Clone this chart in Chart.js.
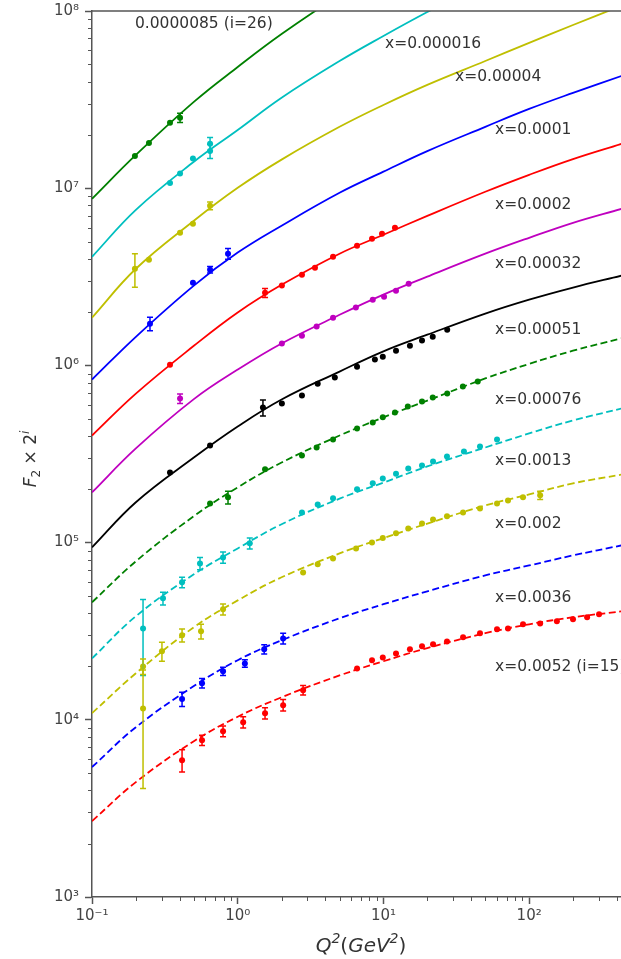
<!DOCTYPE html>
<html>
<head>
<meta charset="utf-8">
<script src="https://cdn.jsdelivr.net/npm/chart.js@4.4.0/dist/chart.umd.min.js"></script>
<style>
  html, body { margin: 0; padding: 0; background: #fff; overflow: hidden; width: 621px; height: 959px; }
  canvas { display: block; margin-top: -4px; }
</style>
</head>
<body>
<canvas id="f2Chart" width="625" height="963"></canvas>
<script>
// Q^2 nodes of the fitted curves (GeV^2)
var qFit = [0.1, 0.2, 0.5, 1, 2, 5, 10, 20, 50, 100, 200, 430];

// fitted F2 x 2^i for every x bin (null = far above the frame)
var fit_0000085 = [8.71e6, 1.54e7, 3.07e7, 4.83e7, 7.41e7, 1.23e8, 1.72e8, null, null, null, null, null];
var fit_000016  = [4.10e6, 7.55e6, 1.41e7, 2.13e7, 3.24e7, 5.22e7, 7.23e7, 9.87e7, 1.46e8, null, null, null];
var fit_00004   = [1.86e6, 3.51e6, 6.55e6, 1.005e7, 1.45e7, 2.22e7, 2.95e7, 3.83e7, 5.22e7, 6.61e7, 8.34e7, 1.07e8];
var fit_0001    = [8.32e5, 1.45e6, 2.82e6, 4.33e6, 6.14e6, 9.42e6, 1.24e7, 1.62e7, 2.22e7, 2.80e7, 3.45e7, 4.30e7];
var fit_0002    = [4.02e5, 6.93e5, 1.29e6, 1.99e6, 2.85e6, 4.27e6, 5.46e6, 6.98e6, 9.55e6, 1.19e7, 1.46e7, 1.78e7];
var fit_00032   = [1.92e5, 3.40e5, 6.45e5, 9.47e5, 1.33e6, 1.93e6, 2.51e6, 3.17e6, 4.27e6, 5.25e6, 6.38e6, 7.65e6];
var fit_00051   = [9.40e4, 1.69e5, 3.02e5, 4.52e5, 6.42e5, 9.23e5, 1.20e6, 1.49e6, 1.96e6, 2.35e6, 2.75e6, 3.21e6];
var fit_00076   = [4.60e4, 7.84e4, 1.41e5, 2.05e5, 2.83e5, 4.02e5, 5.09e5, 6.33e5, 8.44e5, 1.02e6, 1.21e6, 1.42e6];
var fit_0013    = [2.22e4, 3.84e4, 6.62e4, 9.27e4, 1.27e5, 1.77e5, 2.18e5, 2.69e5, 3.44e5, 4.13e5, 4.89e5, 5.71e5];
var fit_002     = [1.09e4, 1.83e4, 3.33e4, 4.72e4, 6.37e4, 8.69e4, 1.06e5, 1.28e5, 1.62e5, 1.87e5, 2.16e5, 2.42e5];
var fit_0036    = [5.41e3, 9.08e3, 1.55e4, 2.17e4, 2.81e4, 3.74e4, 4.49e4, 5.31e4, 6.53e4, 7.43e4, 8.47e4, 9.64e4];
var fit_0052    = [2.68e3, 4.45e3, 7.57e3, 1.04e4, 1.34e4, 1.78e4, 2.14e4, 2.54e4, 3.08e4, 3.46e4, 3.79e4, 4.09e4];

// measured points: [Q^2, F2 x 2^i, error]
var data_0000085 = [[0.197, 1.52e7, 0], [0.246, 1.80e7, 0], [0.343, 2.34e7, 0], [0.402, 2.50e7, 1.5e6]];
var data_000016 = [[0.343, 1.07e7, 0], [0.402, 1.21e7, 0], [0.493, 1.47e7, 0], [0.646, 1.62e7, 1.5e6], [0.646, 1.78e7, 1.5e6]];
var data_00004 = [[0.197, 3.51e6, 7.5e5], [0.246, 3.95e6, 0], [0.402, 5.61e6, 0], [0.493, 6.30e6, 0], [0.646, 7.96e6, 4e5]];
var data_0001 = [[0.250, 1.72e6, 1.5e5], [0.493, 2.93e6, 0], [0.646, 3.47e6, 1.5e5], [0.858, 4.27e6, 3e5]];
var data_0002 = [[0.343, 1.01e6, 0], [1.54, 2.57e6, 1.5e5], [2.01, 2.82e6, 0], [2.76, 3.25e6, 0], [3.39, 3.56e6, 0],
  [4.51, 4.10e6, 0], [6.59, 4.73e6, 0], [8.35, 5.19e6, 0], [9.78, 5.53e6, 0], [12.0, 5.98e6, 0]];
var data_00032 = [[0.402, 6.50e5, 4e4], [2.01, 1.33e6, 0], [2.76, 1.47e6, 0], [3.48, 1.66e6, 0], [4.51, 1.86e6, 0],
  [6.47, 2.12e6, 0], [8.45, 2.35e6, 0], [10.1, 2.44e6, 0], [12.2, 2.64e6, 0], [14.9, 2.89e6, 0]];
var data_00051 = [[0.343, 2.49e5, 0], [0.646, 3.53e5, 0], [1.49, 5.78e5, 6e4], [2.01, 6.10e5, 0], [2.76, 6.76e5, 0],
  [3.54, 7.89e5, 0], [4.64, 8.54e5, 0], [6.59, 9.84e5, 0], [8.74, 1.08e6, 0], [9.9, 1.12e6, 0], [12.2, 1.21e6, 0],
  [15.2, 1.29e6, 0], [18.4, 1.38e6, 0], [21.8, 1.45e6, 0], [27.4, 1.59e6, 0]];
var data_00076 = [[0.646, 1.66e5, 0], [0.858, 1.80e5, 1.5e4], [1.54, 2.59e5, 0], [2.76, 3.10e5, 0], [3.48, 3.44e5, 0],
  [4.51, 3.82e5, 0], [6.59, 4.41e5, 0], [8.45, 4.76e5, 0], [9.9, 5.09e5, 0], [12.0, 5.42e5, 0], [14.7, 5.86e5, 0],
  [18.4, 6.25e5, 0], [21.8, 6.58e5, 0], [27.4, 6.93e5, 0], [35.1, 7.59e5, 0], [44.4, 8.10e5, 0]];
var data_0013 = [[0.224, 3.28e4, 1.5e4], [0.307, 4.85e4, 4e3], [0.415, 5.97e4, 4e3], [0.551, 7.63e4, 6e3], [0.793, 8.25e4, 6e3],
  [1.21, 9.90e4, 7e3], [2.76, 1.48e5, 0], [3.54, 1.64e5, 0], [4.51, 1.78e5, 0], [6.59, 2.00e5, 0], [8.45, 2.16e5, 0],
  [9.9, 2.30e5, 0], [12.2, 2.45e5, 0], [14.8, 2.62e5, 0], [18.4, 2.72e5, 0], [21.9, 2.87e5, 0], [27.3, 3.06e5, 0],
  [35.7, 3.27e5, 0], [46.0, 3.49e5, 0], [60.2, 3.82e5, 0]];
var data_002 = [[0.224, 2.00e4, 2e3], [0.224, 1.16e4, 7.5e3], [0.302, 2.44e4, 3e3], [0.415, 3.00e4, 2.5e3], [0.560, 3.16e4, 3e3],
  [0.793, 4.20e4, 3e3], [2.81, 6.79e4, 0], [3.54, 7.54e4, 0], [4.51, 8.14e4, 0], [6.49, 9.27e4, 0], [8.35, 1.00e5, 0],
  [9.9, 1.06e5, 0], [12.2, 1.13e5, 0], [14.8, 1.20e5, 0], [18.4, 1.28e5, 0], [21.9, 1.35e5, 0], [27.3, 1.41e5, 0],
  [35.2, 1.48e5, 0], [46.0, 1.56e5, 0], [60.2, 1.66e5, 0], [71.6, 1.73e5, 0], [90.8, 1.80e5, 0], [119, 1.85e5, 1e4]];
var data_0036 = [[0.415, 1.31e4, 1.2e3], [0.569, 1.61e4, 1e3], [0.793, 1.88e4, 1e3], [1.12, 2.08e4, 1e3], [1.52, 2.50e4, 1.5e3],
  [2.05, 2.88e4, 2e3]];
var data_0052 = [[0.415, 5.92e3, 8.5e2], [0.569, 7.67e3, 5e2], [0.793, 8.63e3, 6e2], [1.09, 9.69e3, 7e2], [1.54, 1.09e4, 8e2],
  [2.05, 1.21e4, 9e2], [2.81, 1.47e4, 9e2], [6.59, 1.95e4, 0], [8.35, 2.17e4, 0], [9.9, 2.25e4, 0], [12.2, 2.37e4, 0],
  [15.2, 2.50e4, 0], [18.4, 2.60e4, 0], [21.9, 2.67e4, 0], [27.3, 2.77e4, 0], [35.2, 2.92e4, 0], [46.0, 3.08e4, 0],
  [60.2, 3.24e4, 0], [71.6, 3.28e4, 0], [90.8, 3.46e4, 0], [119, 3.50e4, 0], [155, 3.60e4, 0], [200, 3.69e4, 0],
  [250, 3.79e4, 0], [302, 3.94e4, 0]];

var seriesNames = ['0.0000085 (i=26)', 'x=0.000016', 'x=0.00004', 'x=0.0001', 'x=0.0002', 'x=0.00032',
  'x=0.00051', 'x=0.00076', 'x=0.0013', 'x=0.002', 'x=0.0036', 'x=0.0052 (i=15)'];

// tick labels
var xTickValues = [0.1, 1, 10, 100];
var xTickLabels = ['10\u207B\u00B9', '10\u2070', '10\u00B9', '10\u00B2'];
var yTickValues = [1e3, 1e4, 1e5, 1e6, 1e7, 1e8];
var yTickLabels = ['10\u00B3', '10\u2074', '10\u2075', '10\u2076', '10\u2077', '10\u2078'];

var fits = [fit_0000085, fit_000016, fit_00004, fit_0001, fit_0002, fit_00032,
  fit_00051, fit_00076, fit_0013, fit_002, fit_0036, fit_0052];
var points = [data_0000085, data_000016, data_00004, data_0001, data_0002, data_00032,
  data_00051, data_00076, data_0013, data_002, data_0036, data_0052];

// styles
var colors = ['#008000', '#00bfbf', '#bfbf00', '#0000ff', '#ff0000', '#bf00bf',
  '#000000', '#008000', '#00bfbf', '#bfbf00', '#0000ff', '#ff0000'];
var dashed = [false, false, false, false, false, false, false, true, true, true, true, true];
// where each bin label sits (data coords of its left/middle)
var labelAt = [[0.197, 8.45e7], [10.26, 6.52e7], [31.0, 4.25e7], [58.3, 2.13e7], [58.3, 8.05e6], [58.3, 3.75e6],
  [58.3, 1.59e6], [58.3, 6.42e5], [58.3, 2.90e5], [58.3, 1.27e5], [58.3, 4.84e4], [58.3, 1.98e4]];

var FONT = 'DejaVu Sans';
var datasets = [];
fits.forEach(function (f, i) {
  var d = [];
  qFit.forEach(function (q, k) { if (f[k] !== null) d.push({ x: q, y: f[k] }); });
  datasets.push({
    data: d, showLine: true, borderColor: colors[i], borderWidth: 1.8,
    borderDash: dashed[i] ? [7, 3.5] : [], pointRadius: 0, tension: 0.4, order: 1
  });
});
points.forEach(function (p, i) {
  datasets.push({
    data: p.map(function (r) { return { x: r[0], y: r[1] }; }),
    showLine: false, pointRadius: 3, pointBorderWidth: 0, backgroundColor: colors[i], order: 0
  });
});

function drawPieces(ctx, pieces, cx, baseY) {
  var w = 0;
  pieces.forEach(function (p) { ctx.font = p[1]; w += ctx.measureText(p[0]).width; });
  var x = cx - w / 2;
  pieces.forEach(function (p) {
    ctx.font = p[1];
    ctx.fillText(p[0], x, baseY + p[2]);
    x += ctx.measureText(p[0]).width;
  });
}

var decorations = {
  id: 'decorations',
  afterDatasetsDraw: function (chart) {
    var ctx = chart.ctx, xs = chart.scales.x, ys = chart.scales.y, a = chart.chartArea;
    ctx.save();
    ctx.beginPath();
    ctx.rect(a.left, a.top, a.right - a.left, a.bottom - a.top);
    ctx.clip();
    ctx.lineWidth = 1.5;
    points.forEach(function (pts, i) {
      ctx.strokeStyle = colors[i];
      pts.forEach(function (p) {
        if (!p[2]) return;
        var x = xs.getPixelForValue(p[0]);
        var y1 = ys.getPixelForValue(p[1] + p[2]);
        var y2 = ys.getPixelForValue(Math.max(p[1] - p[2], 1));
        ctx.beginPath();
        ctx.moveTo(x, y1); ctx.lineTo(x, y2);
        ctx.moveTo(x - 3, y1); ctx.lineTo(x + 3, y1);
        ctx.moveTo(x - 3, y2); ctx.lineTo(x + 3, y2);
        ctx.stroke();
      });
    });
    ctx.restore();
  },
  afterDraw: function (chart) {
    var ctx = chart.ctx, xs = chart.scales.x, ys = chart.scales.y, a = chart.chartArea;
    ctx.save();
    // top spine
    ctx.strokeStyle = '#555';
    ctx.lineWidth = 1.5;
    ctx.beginPath();
    ctx.moveTo(a.left, a.top); ctx.lineTo(a.right, a.top);
    ctx.stroke();
    // minor ticks
    ctx.lineWidth = 1;
    for (var n = -1; n <= 2; n++) {
      for (var k = 2; k <= 9; k++) {
        var v = k * Math.pow(10, n);
        if (v > xs.max) continue;
        var px = Math.round(xs.getPixelForValue(v)) + 0.5;
        ctx.beginPath(); ctx.moveTo(px, a.bottom); ctx.lineTo(px, a.bottom + 4); ctx.stroke();
      }
    }
    for (var m = 3; m <= 7; m++) {
      for (var j = 2; j <= 9; j++) {
        var py = Math.round(ys.getPixelForValue(j * Math.pow(10, m))) + 0.5;
        ctx.beginPath(); ctx.moveTo(a.left - 4, py); ctx.lineTo(a.left, py); ctx.stroke();
      }
    }
    // bin labels
    ctx.fillStyle = '#333';
    ctx.font = '15.5px "' + FONT + '"';
    ctx.textAlign = 'left';
    ctx.textBaseline = 'middle';
    seriesNames.forEach(function (s, i) {
      ctx.fillText(s, xs.getPixelForValue(labelAt[i][0]), ys.getPixelForValue(labelAt[i][1]));
    });
    // axis titles
    ctx.textBaseline = 'alphabetic';
    var it = 'italic 20px "' + FONT + '"', up = '20px "' + FONT + '"', sup = 'italic 14px "' + FONT + '"';
    drawPieces(ctx, [['Q', it, 0], ['2', sup, -9], ['(', up, 0], ['GeV', it, 0],
      ['2', sup, -9], [')', up, 0]], a.left + 269, a.bottom + 55);
    ctx.translate(36, (a.top + a.bottom) / 2 + 5);
    ctx.rotate(-Math.PI / 2);
    var it2 = 'italic 17px "' + FONT + '"', up2 = '17px "' + FONT + '"', sm = '12px "' + FONT + '"';
    drawPieces(ctx, [['F', it2, 0], ['2', sm, 4], [' \u00D7 2', up2, 0], ['i', 'italic ' + sm, -7]], 0, 0);
    ctx.restore();
  }
};

var axisCommon = {
  type: 'logarithmic',
  grid: { drawOnChartArea: false, drawTicks: true, tickLength: 7, tickColor: '#555', tickWidth: 1.5 },
  border: { display: true, color: '#555', width: 1.5 },
};

new Chart(document.getElementById('f2Chart'), {
  type: 'scatter',
  data: { datasets: datasets },
  options: {
    responsive: false,
    animation: false,
    devicePixelRatio: 1,
    layout: { padding: 0 },
    plugins: { legend: { display: false }, tooltip: { enabled: false } },
    scales: {
      x: Object.assign({}, axisCommon, {
        min: 0.1, max: 427,
        afterBuildTicks: function (s) { s.ticks = xTickValues.map(function (v) { return { value: v, major: true }; }); },
        afterFit: function (s) { s.height = 62; },
        ticks: { autoSkip: false, maxRotation: 0, padding: 3, color: '#444', font: { family: FONT, size: 15 },
          callback: function (v, i) { return xTickLabels[i]; } }
      }),
      y: Object.assign({}, axisCommon, {
        min: 1e3, max: 1e8,
        afterBuildTicks: function (s) { s.ticks = yTickValues.map(function (v) { return { value: v, major: true }; }); },
        afterFit: function (s) { s.width = 92; },
        ticks: { autoSkip: false, padding: 6, color: '#444', font: { family: FONT, size: 15 },
          callback: function (v, i) { return yTickLabels[i]; } }
      })
    }
  },
  plugins: [decorations]
});
</script>
</body>
</html>
